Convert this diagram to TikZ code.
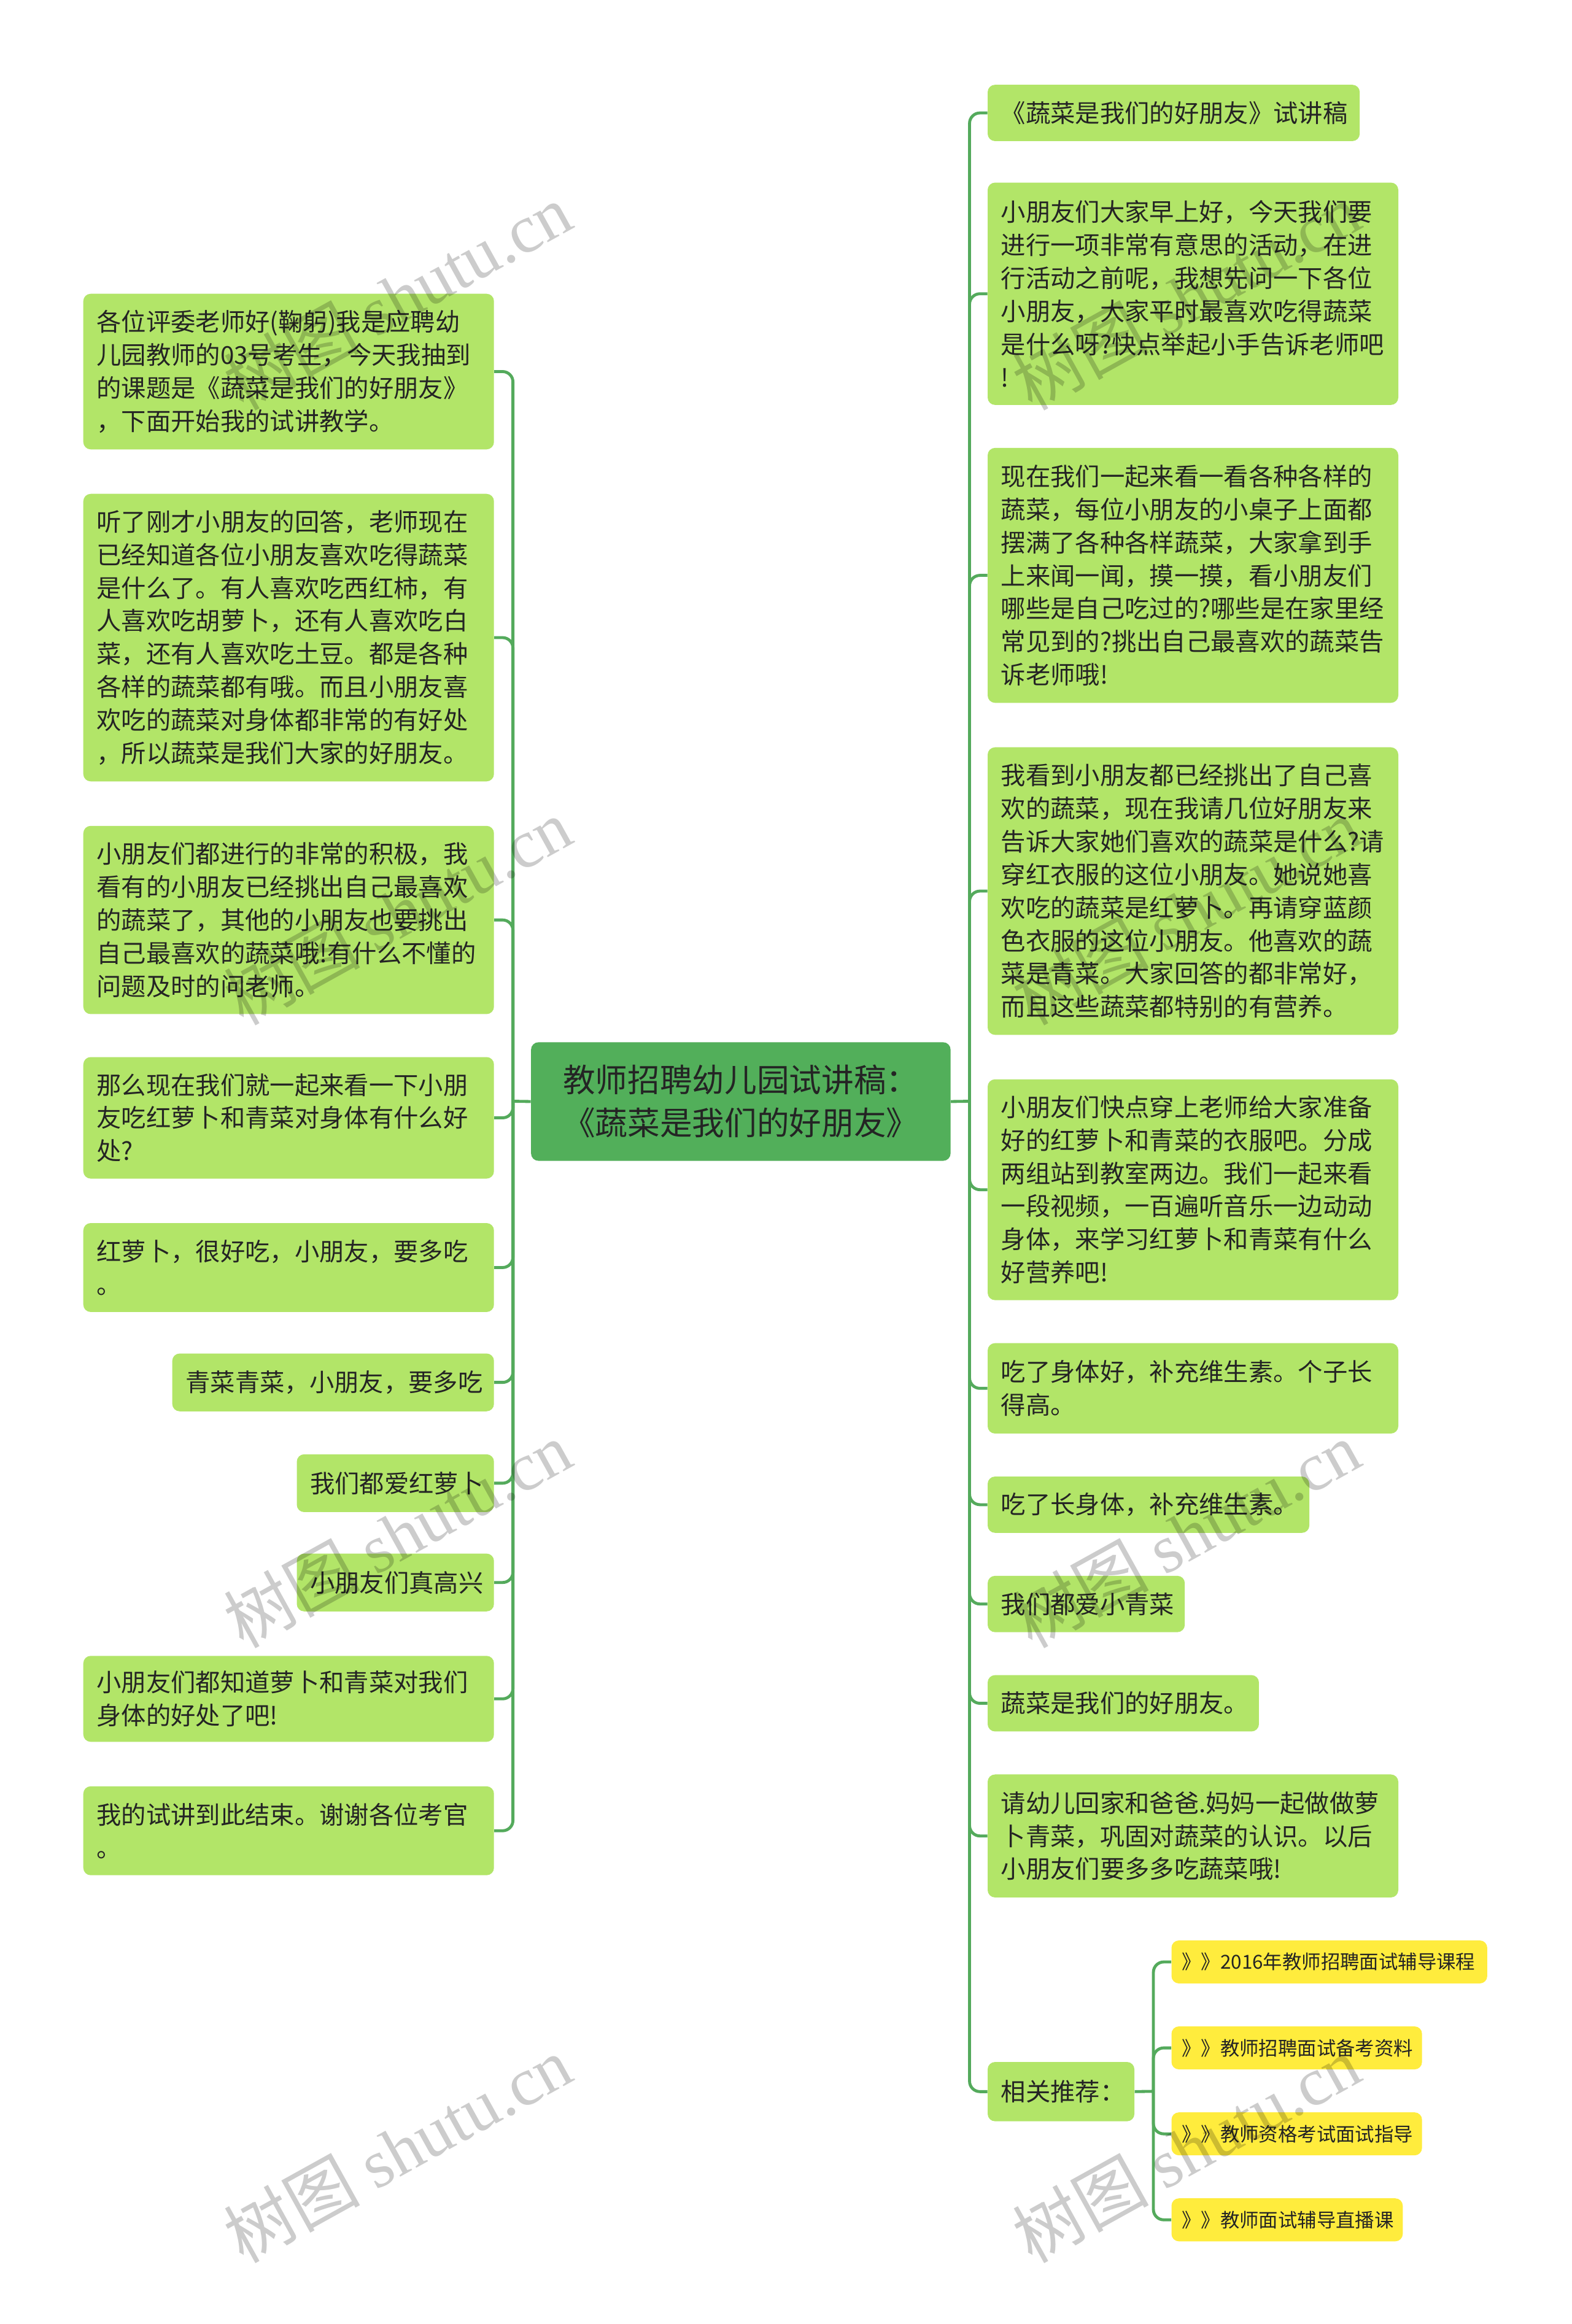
\documentclass[tikz,border=0pt]{standalone}
\usepackage{fontspec}
\setmainfont{Noto Sans CJK SC}
\newfontfamily\wmcjk{Noto Sans CJK SC}
\newfontfamily\wmlat{Liberation Serif}
\definecolor{lgreen}{RGB}{178,229,104}
\definecolor{cgreen}{RGB}{82,175,90}
\definecolor{yel}{RGB}{255,236,61}
\definecolor{connc}{RGB}{84,170,92}
\definecolor{txt}{RGB}{36,36,36}
\tikzset{
  conn/.style={draw=connc, line width=2pt, rounded corners=7pt},
  box/.style={rounded corners=5pt, inner xsep=9pt, inner ysep=0pt, anchor=north west,
    align=left, text=txt, font=\fontsize{16.7pt}{22.3pt}\selectfont},
  lg/.style={box, fill=lgreen},
  yb/.style={box, fill=yel, inner xsep=7pt, font=\fontsize{13pt}{17pt}\selectfont},
  cbox/.style={rounded corners=5pt, anchor=north west, fill=cgreen, align=center, text=txt,
    minimum width=283pt, minimum height=80pt, inner sep=0pt,
    font=\fontsize{21.8pt}{29pt}\selectfont},
  wm/.style={rotate=29, text=black, text opacity=0.2, inner sep=0pt,
    font=\fontsize{46pt}{50pt}\selectfont}
}
\begin{document}
\begin{tikzpicture}[x=1pt,y=-1pt]
\fill[white] (0,0) rectangle (1060,1568);
\useasboundingbox (0,0) rectangle (1060,1568);

% central
\node[cbox] (C) at (358,703) {教师招聘幼儿园试讲稿：\\《蔬菜是我们的好朋友》};

% left children
\node[lg, text width=259pt, minimum height=105pt] (L1) at (56,198) {各位评委老师好(鞠躬)我是应聘幼\\儿园教师的03号考生，今天我抽到\\的课题是《蔬菜是我们的好朋友》\\，下面开始我的试讲教学。};
\node[lg, text width=259pt, minimum height=194pt] (L2) at (56,333) {听了刚才小朋友的回答，老师现在\\已经知道各位小朋友喜欢吃得蔬菜\\是什么了。有人喜欢吃西红柿，有\\人喜欢吃胡萝卜，还有人喜欢吃白\\菜，还有人喜欢吃土豆。都是各种\\各样的蔬菜都有哦。而且小朋友喜\\欢吃的蔬菜对身体都非常的有好处\\，所以蔬菜是我们大家的好朋友。};
\node[lg, text width=259pt, minimum height=127pt] (L3) at (56,557) {小朋友们都进行的非常的积极，我\\看有的小朋友已经挑出自己最喜欢\\的蔬菜了，其他的小朋友也要挑出\\自己最喜欢的蔬菜哦!有什么不懂的\\问题及时的问老师。};
\node[lg, text width=259pt, minimum height=82pt] (L4) at (56,713) {那么现在我们就一起来看一下小朋\\友吃红萝卜和青菜对身体有什么好\\处?};
\node[lg, text width=259pt, minimum height=60pt] (L5) at (56,825) {红萝卜，很好吃，小朋友，要多吃\\。};
\node[lg, text width=199pt, minimum height=39pt] (L6) at (116,913) {青菜青菜，小朋友，要多吃};
\node[lg, text width=115pt, minimum height=39pt] (L7) at (200,981) {我们都爱红萝卜};
\node[lg, text width=115pt, minimum height=39pt] (L8) at (200,1048) {小朋友们真高兴};
\node[lg, text width=259pt, minimum height=58pt] (L9) at (56,1117) {小朋友们都知道萝卜和青菜对我们\\身体的好处了吧!};
\node[lg, text width=259pt, minimum height=60pt] (L10) at (56,1205) {我的试讲到此结束。谢谢各位考官\\。};

% right children
\node[lg, text width=233pt, minimum height=38pt] (R1) at (666,57) {《蔬菜是我们的好朋友》试讲稿};
\node[lg, text width=259pt, minimum height=150pt] (R2) at (666,123) {小朋友们大家早上好，今天我们要\\进行一项非常有意思的活动，在进\\行活动之前呢，我想先问一下各位\\小朋友，大家平时最喜欢吃得蔬菜\\是什么呀?快点举起小手告诉老师吧\\!};
\node[lg, text width=259pt, minimum height=172pt] (R3) at (666,302) {现在我们一起来看一看各种各样的\\蔬菜，每位小朋友的小桌子上面都\\摆满了各种各样蔬菜，大家拿到手\\上来闻一闻，摸一摸，看小朋友们\\哪些是自己吃过的?哪些是在家里经\\常见到的?挑出自己最喜欢的蔬菜告\\诉老师哦!};
\node[lg, text width=259pt, minimum height=194pt] (R4) at (666,504) {我看到小朋友都已经挑出了自己喜\\欢的蔬菜，现在我请几位好朋友来\\告诉大家她们喜欢的蔬菜是什么?请\\穿红衣服的这位小朋友。她说她喜\\欢吃的蔬菜是红萝卜。再请穿蓝颜\\色衣服的这位小朋友。他喜欢的蔬\\菜是青菜。大家回答的都非常好，\\而且这些蔬菜都特别的有营养。};
\node[lg, text width=259pt, minimum height=149pt] (R5) at (666,728) {小朋友们快点穿上老师给大家准备\\好的红萝卜和青菜的衣服吧。分成\\两组站到教室两边。我们一起来看\\一段视频，一百遍听音乐一边动动\\身体，来学习红萝卜和青菜有什么\\好营养吧!};
\node[lg, text width=259pt, minimum height=61pt] (R6) at (666,906) {吃了身体好，补充维生素。个子长\\得高。};
\node[lg, text width=199pt, minimum height=38pt] (R7) at (666,996) {吃了长身体，补充维生素。};
\node[lg, text width=115pt, minimum height=38pt] (R8) at (666,1063) {我们都爱小青菜};
\node[lg, text width=165pt, minimum height=38pt] (R9) at (666,1130) {蔬菜是我们的好朋友。};
\node[lg, text width=259pt, minimum height=83pt] (R10) at (666,1197) {请幼儿回家和爸爸.妈妈一起做做萝\\卜青菜，巩固对蔬菜的认识。以后\\小朋友们要多多吃蔬菜哦!};
\node[lg, text width=81pt, minimum height=40pt] (R11) at (666,1391) {相关推荐：};

% yellow
\node[yb, text width=199pt, minimum height=29pt] (Y1) at (790,1309) {》》2016年教师招聘面试辅导课程};
\node[yb, text width=155pt, minimum height=29pt] (Y2) at (790,1367) {》》教师招聘面试备考资料};
\node[yb, text width=155pt, minimum height=29pt] (Y3) at (790,1425) {》》教师资格考试面试指导};
\node[yb, text width=142pt, minimum height=29pt] (Y4) at (790,1483) {》》教师面试辅导直播课};

% connectors
\coordinate (jl) at (346,743);
\coordinate (jr) at (654,743);
\coordinate (jy) at (778,1411);
\draw[conn] (C.west) -- (jl);
\foreach \n in {L1,L2,L3,L4,L5,L6,L7,L8,L9,L10} \draw[conn] (jl) |- (\n.east);
\draw[conn] (C.east) -- (jr);
\foreach \n in {R1,R2,R3,R4,R5,R6,R7,R8,R9,R10,R11} \draw[conn] (jr) |- (\n.west);
\draw[conn] (R11.east) -- (jy);
\foreach \n in {Y1,Y2,Y3,Y4} \draw[conn] (jy) |- (\n.west);

% watermarks
\foreach \wx in {268,800}
  \foreach \wy in {200,615,1035,1450}
    \node[wm] at (\wx,\wy) {\wmcjk 树图 \wmlat shutu.cn};
\end{tikzpicture}
\end{document}
